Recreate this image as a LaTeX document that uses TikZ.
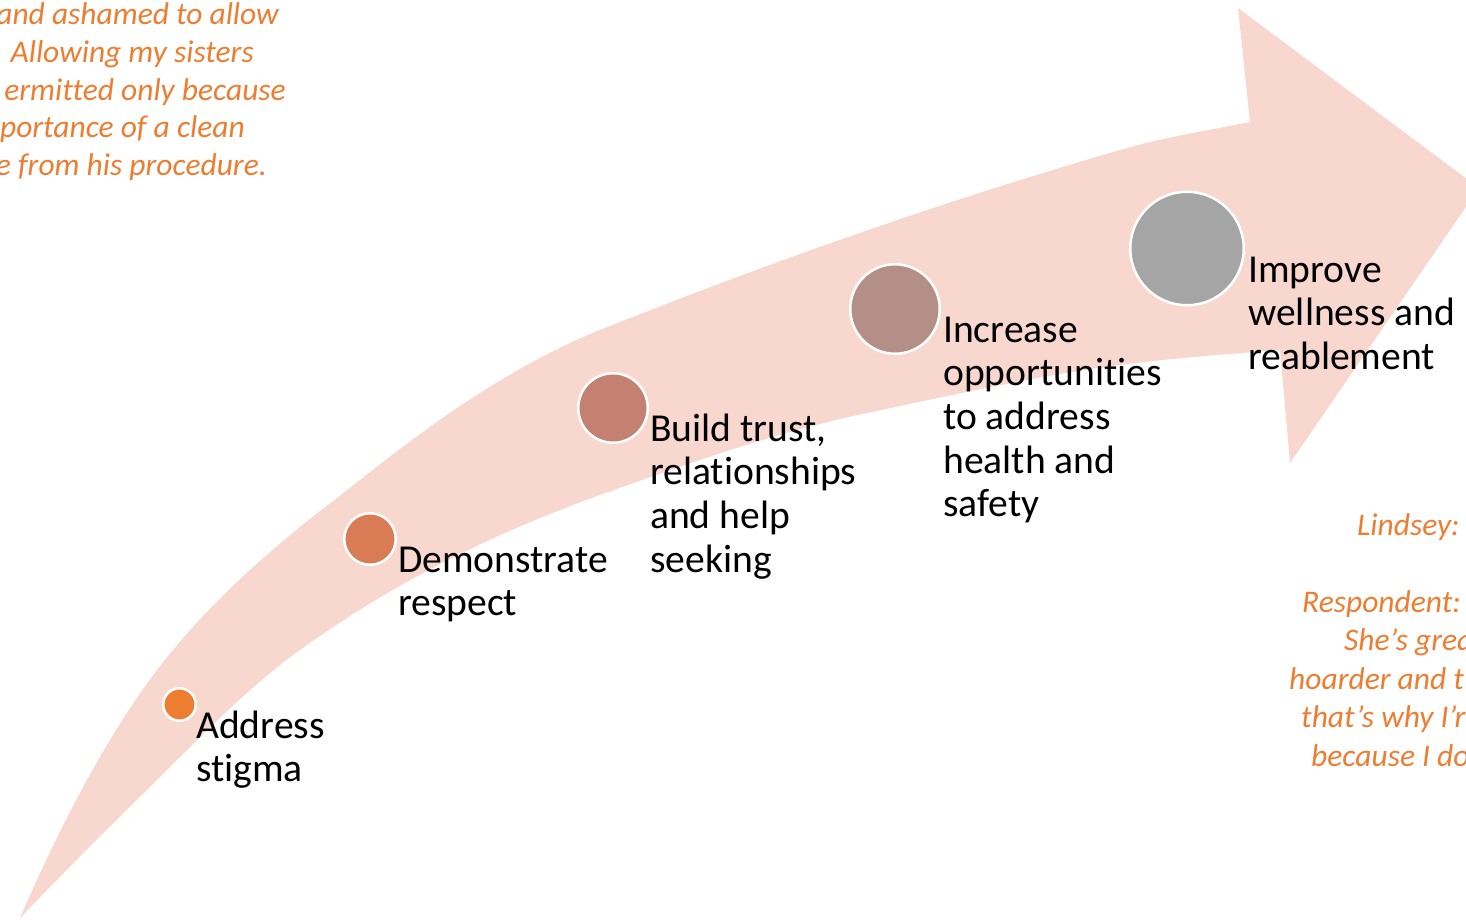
\documentclass[tikz,border=0pt]{standalone}
\usepackage{fontspec}
\setmainfont{Carlito}[RawFeature={-liga;-clig;-dlig}]
\definecolor{bandc}{RGB}{248,216,206}
\definecolor{cone}{RGB}{237,125,49}
\definecolor{ctwo}{RGB}{217,123,84}
\definecolor{cthree}{RGB}{196,128,112}
\definecolor{cfour}{RGB}{179,143,136}
\definecolor{cfive}{RGB}{165,165,165}
\definecolor{quotec}{RGB}{237,125,49}
\newcommand\vlines[1]{\vtop{\halign{##\hfil\cr#1\crcr}}}
\tikzset{
  band/.style={fill=bandc},
  dot/.style={circle, draw=white, line width=2.5pt, inner sep=0pt},
  lbl/.style={anchor=base west, inner sep=0pt, text=black, font=\fontsize{39.6}{43.7}\selectfont},
  quoteR/.style={anchor=base east, inner sep=0pt, text=quotec, font=\fontsize{31.5}{38.5}\selectfont\itshape},
  quoteL/.style={anchor=base west, inner sep=0pt, text=quotec, font=\fontsize{31.5}{38.5}\selectfont\itshape}
}
\begin{document}
\begin{tikzpicture}[x=1pt,y=-1pt]
\useasboundingbox (0,0) rectangle (1466,920);
% curved arrow
\fill[band] (20,918)
  .. controls (71,800.7) and (122,711.2) .. (173,650)
  .. controls (215.33,599.2) and (257.67,561.7) .. (300,527)
  .. controls (320,510.6) and (340,496) .. (360,480)
  .. controls (440,416) and (520,362) .. (600,330)
  .. controls (773.33,260.7) and (946.67,200.3) .. (1120,150)
  .. controls (1163.33,137.4) and (1206.67,130.7) .. (1250,122)
  -- (1238,8) -- (1479,188) -- (1290,463) -- (1280,350)
  .. controls (1226.67,354.27) and (1173.33,358.07) .. (1120,365)
  .. controls (1035.67,375.96) and (951.33,395.29) .. (867,413)
  .. controls (778,431.69) and (689,462.96) .. (600,495)
  .. controls (500,531) and (400,578) .. (300,650)
  .. controls (262.33,677.12) and (224.67,712.33) .. (187,750)
  .. controls (131.33,805.67) and (75.67,859.55) .. (20,918) -- cycle;
% circles
\node[dot, fill=cone, minimum size=32.5pt] (s1) at (179.5,704.5) {};
\node[dot, fill=ctwo, minimum size=51.5pt] (s2) at (370,539) {};
\node[dot, fill=cthree, minimum size=69.5pt] (s3) at (613,408) {};
\node[dot, fill=cfour, minimum size=89.5pt] (s4) at (895,309) {};
\node[dot, fill=cfive, minimum size=113.5pt] (s5) at (1187,248.5) {};
% labels
\node[lbl] (t1) at (196,738) {\vlines{Address\cr stigma}};
\node[lbl] (t2) at (398,572) {\vlines{Demonstrate\cr respect}};
\node[lbl] (t3) at (650,441) {\vlines{Build trust,\cr relationships\cr and help\cr seeking}};
\node[lbl] (t4) at (943,342) {\vlines{Increase\cr opportunities\cr to address\cr health and\cr safety}};
\node[lbl] (t5) at (1248,282) {\vlines{Improve\cr wellness and\cr reablement}};
% quote, top left
\node[quoteR] (q1) at (279,25) {and ashamed to allow};
\node[quoteR] (q2) at (254,63) {Allowing my sisters};
\node[quoteR] (q3) at (286,101) {ermitted only because};
\node[quoteR] (q4) at (245,138) {portance of a clean};
\node[quoteR] (q5) at (267,176) {e from his procedure.};
% quote, right
\node[quoteL] (r1) at (1357,535) {Lindsey:};
\node[quoteL] (r2) at (1302,612) {Respondent:};
\node[quoteL] (r3) at (1344,650.5) {She’s grea};
\node[quoteL] (r4) at (1289,689) {hoarder and t};
\node[quoteL] (r5) at (1301,727.5) {that’s why I’r};
\node[quoteL] (r6) at (1311,766) {because I do};
\end{tikzpicture}
\end{document}
